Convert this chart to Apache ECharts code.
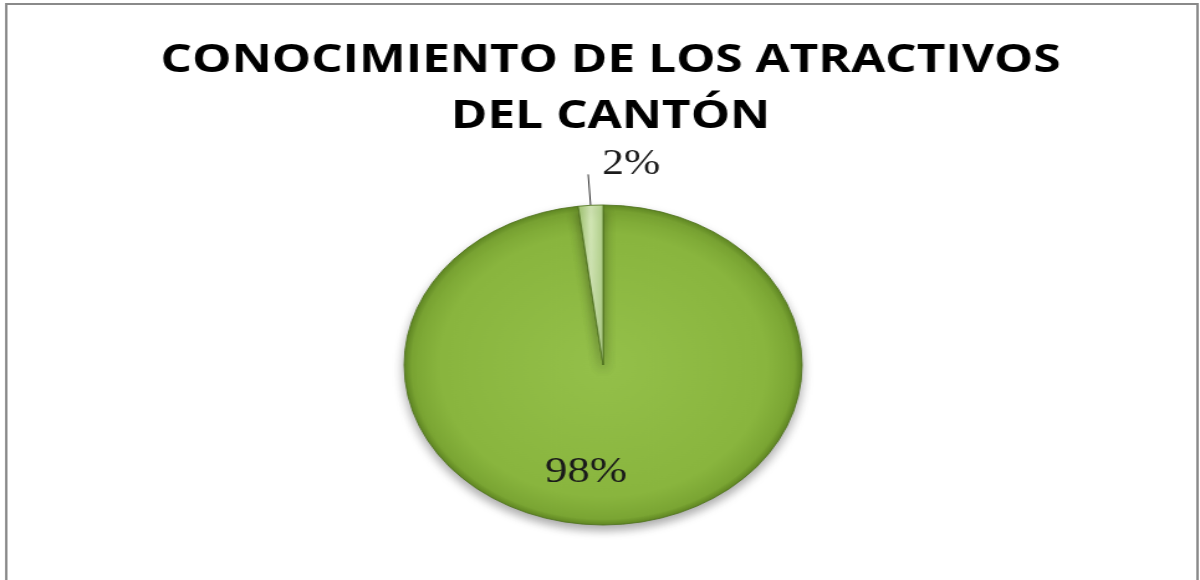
<!DOCTYPE html>
<html>
<head>
<meta charset="utf-8">
<script src="https://cdn.jsdelivr.net/npm/echarts@6/dist/echarts.min.js"></script>
<style>
  html, body { margin: 0; padding: 0; background: #ffffff; overflow: hidden; }
  #wrap { position: absolute; left: 0; top: 0; width: 1200px; height: 580px; overflow: hidden; }
  #chart { position: absolute; left: 0; top: 0; width: 965px; height: 580px;
           transform: scaleX(1.2435); transform-origin: 0 0; }
</style>
</head>
<body>
<div id="wrap"><div id="chart"></div></div>
<script>
const titleLines = ['CONOCIMIENTO DE LOS ATRACTIVOS', 'DEL CANTÓN'];
const categories = ['Sí conoce', 'No conoce'];
const values = [98, 2];

const sliceColors = [
  { type: 'radial', x: 0.5, y: 0.5, r: 0.5,
    colorStops: [
      { offset: 0, color: '#94c04a' },
      { offset: 0.82, color: '#89b53e' },
      { offset: 0.96, color: '#7aa533' },
      { offset: 1, color: '#5f8622' }
    ] },
  { type: 'linear', x: 0, y: 0, x2: 1, y2: 0,
    colorStops: [
      { offset: 0, color: '#9fc46e' },
      { offset: 0.5, color: '#d3e7b6' },
      { offset: 1, color: '#b2d28a' }
    ] }
];

const chart = echarts.init(document.getElementById('chart'), null, { renderer: 'canvas' });
chart.setOption({
  backgroundColor: 'transparent',
  animation: false,
  title: {
    text: titleLines.join('\n'),
    left: 491,
    textAlign: 'center',
    top: 33,
    padding: 0,
    textStyle: {
      fontFamily: 'Open Sans',
      fontWeight: 'bold',
      fontSize: 39.8,
      lineHeight: 56,
      color: '#000000'
    }
  },
  graphic: [{
    type: 'rect',
    shape: { x: 5, y: 4, width: 958, height: 620 },
    style: { fill: 'none', stroke: '#8a8a8a', lineWidth: 2 },
    silent: true
  }],
  series: [{
    type: 'pie',
    center: [485, 365],
    radius: [0, 160],
    startAngle: 90,
    clockwise: true,
    avoidLabelOverlap: false,
    data: categories.map((name, i) => ({
      name: name,
      value: values[i],
      itemStyle: { color: sliceColors[i] },
      label: i === 0
        ? { position: 'inside', fontSize: 36 }
        : { position: 'outside', fontSize: 35 },
      labelLine: i === 0 ? { show: false } : { show: true, length: 31, length2: 0 }
    })),
    itemStyle: {
      borderColor: 'rgba(80,115,30,0.85)',
      borderWidth: 1,
      shadowBlur: 10,
      shadowOffsetY: 5,
      shadowColor: 'rgba(0,0,0,0.35)'
    },
    label: {
      show: true,
      formatter: '{c}%',
      fontFamily: 'Liberation Serif',
      color: '#1a1a1a'
    },
    labelLine: {
      lineStyle: { color: '#333333', width: 1 }
    },
    labelLayout: function (p) {
      if (p.dataIndex === 0) return { dx: -19, dy: 25 };
      return { dx: 63, dy: -10 };
    },
    emphasis: { disabled: true }
  }]
});
</script>
</body>
</html>
